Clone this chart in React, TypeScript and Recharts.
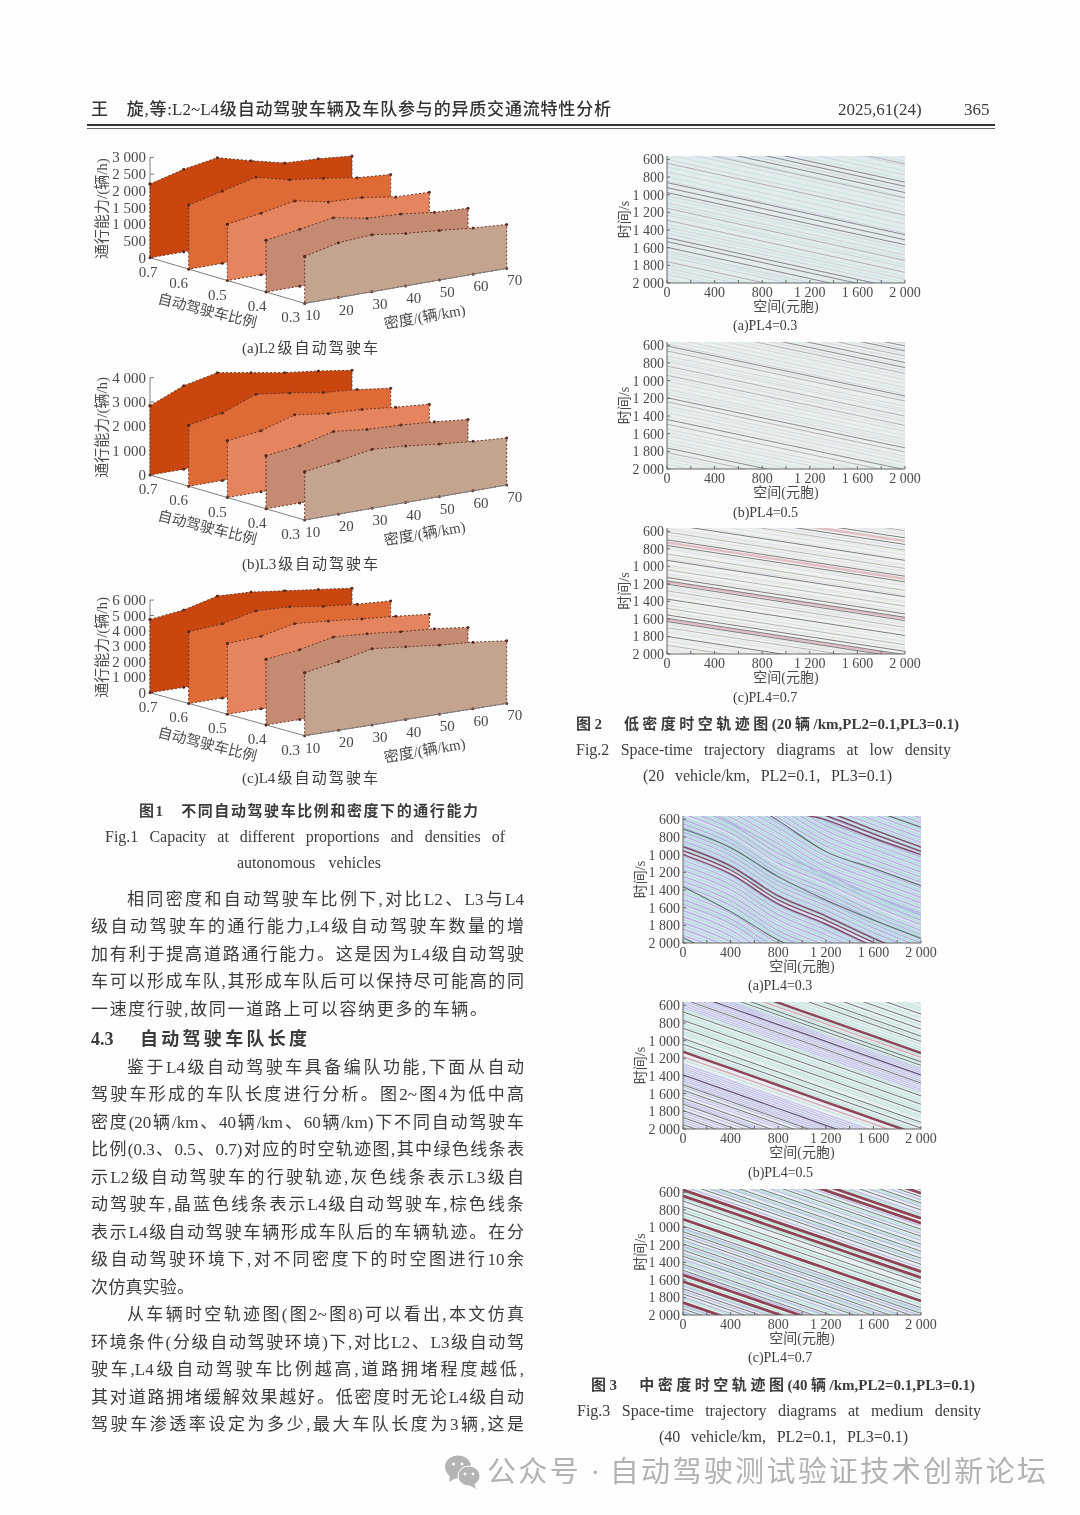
import React from 'react';
import { ComposedChart, LineChart, Line, Area, XAxis, YAxis, ReferenceArea } from 'recharts';

// ---------- Fig.1 data: capacity by AV ratio (rows) and density (columns) ----------
const RATIOS = [0.7, 0.6, 0.5, 0.4, 0.3];
const DENSITIES = [10, 20, 30, 40, 50, 60, 70];
const L2_CAPACITY = [
  [2203, 2467, 2641, 2377, 2133, 2088, 1993],
  [1914, 2158, 2402, 2148, 2023, 1859, 1784],
  [1684, 1839, 2033, 1829, 1784, 1630, 1595],
  [1545, 1699, 1874, 1679, 1634, 1510, 1455],
  [1405, 1640, 1704, 1570, 1485, 1380, 1316],
];
const L3_CAPACITY = [
  [2849, 3432, 3726, 3486, 3247, 3075, 2863],
  [2507, 2774, 3301, 3116, 2890, 2774, 2589],
  [2329, 2500, 2918, 2733, 2658, 2514, 2397],
  [2178, 2349, 2699, 2541, 2479, 2377, 2233],
  [1986, 2185, 2425, 2322, 2164, 2034, 1932],
];
const L4_CAPACITY = [
  [4748, 5003, 5560, 5469, 5206, 4943, 4679],
  [4640, 4809, 5301, 5210, 4904, 4684, 4550],
  [4576, 4701, 5172, 4995, 4775, 4597, 4377],
  [4252, 4528, 4999, 4865, 4645, 4490, 4226],
  [4079, 4464, 4934, 4714, 4472, 4317, 4054],
];
const L2_TICKS = [0, 500, 1000, 1500, 2000, 2500, 3000];
const L3_TICKS = [0, 1000, 2000, 3000, 4000];
const L4_TICKS = [0, 1000, 2000, 3000, 4000, 5000, 6000];
const SLICE_COLORS = ['#c9470f', '#de6a35', '#e58560', '#c48a72', '#c4a48e'];

// ---------- Fig.2 / Fig.3 data: trajectories (time at space 0 and time shape along space) ----------
const SPACE = [0, 400, 800, 1200, 1600, 2000];
const TIME_TICKS = [600, 800, 1000, 1200, 1400, 1600, 1800, 2000];
const SPACE_TICKS = [0, 200, 400, 600, 800, 1000, 1200, 1400, 1600, 1800, 2000];

const F2A_SHAPE = [0, 118, 236, 354, 472, 590];
const F2A_DARK = [270, 316, 387, 864, 921, 977, 1487, 1532, 1596];
const F2A_MED = [645, 1155, 1758, 62, 1290, 448];
const F2A_PALE1 = [-18, 82, 188, 352, 491, 602, 742, 846, 1012, 1094, 1232, 1368, 1441, 1642, 1701, 1832, 1903, 1988];
const F2A_PALE2 = [34, 141, 236, 433, 548, 689, 798, 1046, 1127, 1204, 1334, 1402, 1668, 1796, 1868, 1951];

const F2B_SHAPE = [0, 113, 227, 340, 454, 567];
const F2B_DARK = [608, 1194, 1440, 1762, 286, 229, 41, 97];
const F2B_MED = [664, 835, 940, 1240, 1494, 1814, 352, 155];
const F2B_PALE1 = [12, 74, 192, 318, 421, 512, 586, 722, 782, 894, 1006, 1098, 1156, 1288, 1362, 1548, 1622, 1704, 1872, 1948];
const F2B_PALE2 = [126, 262, 388, 468, 548, 634, 756, 868, 972, 1052, 1128, 1322, 1406, 1588, 1668, 1734, 1846, 1908, 1982];

const F2C_SHAPE = [0, 83, 166, 249, 332, 415];
const F2C_DARK = [698, 762, 1128, 1166, 1204, 1555, 1593, 1630, 260, 336, 932, 1374, 1800, 517, 1996];
const F2C_RED = [728, 1180, 1610, 298];
const F2C_MED = [610, 860, 1040, 1280, 1480, 1700, 1900, 180, 400];
const F2C_PALE1 = [152, 224, 368, 452, 566, 644, 806, 912, 988, 1086, 1248, 1326, 1442, 1522, 1668, 1752, 1852, 1948];
const F2C_PALE2 = [198, 286, 421, 498, 588, 674, 784, 888, 1006, 1108, 1224, 1308, 1408, 1516, 1646, 1728, 1824, 1922];

const F3A_LOWER = [0, 219, 558, 785, 1037, 1255];
const F3A_UPPER = [0, 260, 560, 880, 1090, 1290];
const F3A_BAND_TOP = [
  [910, 1129, 1468, 1695, 1947, 2165],
  [955, 1174, 1513, 1740, 1992, 2210],
  [1000, 1219, 1558, 1785, 2037, 2255],
];
const F3A_BAND_RIGHT = [
  [-340, -120, 360, 510, 718, 915],
  [-292, -72, 402, 558, 765, 963],
  [-240, -22, 452, 606, 812, 1000],
];
const F3A_SINGLE = [
  [709, 921, 1249, 1513, 1740, 1947],
  [40, 300, 615, 966, 1155, 1351],
  [1362, 1645, 1966, 2200, 2400, 2600],
  [1936, 2200, 2420, 2600, 2800, 3000],
  [-470, -260, 10, 290, 500, 690],
];
const F3A_LILAC_LOW = [430, 486, 538, 604, 652, 698, 745, 792, 846, 898, 1015, 1066, 1122, 1178, 1245, 1302, 1356, 1445, 1508, 1562, 1634, 1702, 1768, 1842, 1912, 1984];
const F3A_AQUA_LOW = [462, 512, 578, 628, 676, 722, 768, 822, 872, 928, 1038, 1094, 1150, 1212, 1274, 1332, 1386, 1412, 1478, 1536, 1598, 1668, 1736, 1806, 1878, 1958];
const F3A_LILAC_UP = [-702, -648, -598, -544, -482, -428, -372, -318, -262, -208, -152, -92, -34, 22, 84, 136, 196, 258, 318, 372];
const F3A_AQUA_UP = [-676, -622, -572, -512, -456, -398, -344, -286, -236, -178, -122, -62, -4, 58, 112, 168, 228, 288, 348, 402];

const F3B_SHAPE = [0, 190, 380, 570, 760, 950];
const F3B_THICK = [1125, 190];
const F3B_PINK = [1182, 240];
const F3B_PURPLE = [438, 1388];
const F3B_GRAY = [675, 770, 860, 975, 1040, 1500, 1560, 1650, 1720, 1790, 1870, 1950, -250, -160, -80, 0, 60, 330, 290, 530];
const F3B_LILAC = [372, 392, 412, 458, 482, 506, 552, 578, 602, 626, 1262, 1288, 1312, 1336, 1362, 1412, 1436, 1458, 1482, 1524, 1584, 1612, 1678, 1702, 1752, 1814, 1846, 1896, 1922, 1978];
const F3B_AQUA = [-366, -318, -288, -206, -124, -36, 28, 92, 128, 156, 218, 268, 302, 352, 650, 712, 742, 806, 832, 898, 924, 1002, 1074, 1098, 1218];

const F3C_SHAPE = [0, 186, 373, 559, 746, 932];
const F3C_THICK = [573, 642, 908, 1543, 1619, 1859, -35, 20, -321];
const F3C_MED = [700, 764, 830, 985, 1050, 1110, 1190, 1260, 1330, 1420, 1490, 1700, 1760, 1930, -280, -210, -130, 90, 170, 260, 340, 420, 490];
const F3C_LILAC = [-362, -248, -168, -88, 52, 138, 218, 298, 378, 458, 532, 1012, 1078, 1146, 1218, 1296, 1366, 1446, 1512, 1668, 1728, 1796, 1894, 1962];
const F3C_AQUA = [-318, -192, -64, 112, 198, 278, 362, 442, 604, 672, 798, 868, 948, 1028, 1164, 1236, 1312, 1392, 1458, 1582, 1652, 1816, 1906, 1982];

// ---------- Text ----------
const BODY_LINES = [
  '相同密度和自动驾驶车比例下,对比L2、L3与L4',
  '级自动驾驶车的通行能力,L4级自动驾驶车数量的增',
  '加有利于提高道路通行能力。这是因为L4级自动驾驶',
  '车可以形成车队,其形成车队后可以保持尽可能高的同',
  '一速度行驶,故同一道路上可以容纳更多的车辆。',
];
const BODY_LINES_2 = [
  '鉴于L4级自动驾驶车具备编队功能,下面从自动',
  '驾驶车形成的车队长度进行分析。图2~图4为低中高',
  '密度(20辆/km、40辆/km、60辆/km)下不同自动驾驶车',
  '比例(0.3、0.5、0.7)对应的时空轨迹图,其中绿色线条表',
  '示L2级自动驾驶车的行驶轨迹,灰色线条表示L3级自',
  '动驾驶车,晶蓝色线条表示L4级自动驾驶车,棕色线条',
  '表示L4级自动驾驶车辆形成车队后的车辆轨迹。在分',
  '级自动驾驶环境下,对不同密度下的时空图进行10余',
  '次仿真实验。',
  '从车辆时空轨迹图(图2~图8)可以看出,本文仿真',
  '环境条件(分级自动驾驶环境)下,对比L2、L3级自动驾',
  '驶车,L4级自动驾驶车比例越高,道路拥堵程度越低,',
  '其对道路拥堵缓解效果越好。低密度时无论L4级自动',
  '驾驶车渗透率设定为多少,最大车队长度为3辆,这是',
];
const BODY_Y = [899, 926, 954, 981, 1009];
const BODY_Y_2 = [1067, 1094, 1122, 1149, 1177, 1204, 1232, 1259, 1287, 1314, 1342, 1369, 1397, 1424];

const FONT = '"Liberation Serif","Noto Sans CJK SC",serif';
const INK = '#3c3c3c';

function T({ x, y, w, size = 15, weight = 400, color = INK, align = 'left', children }: any) {
  const style: React.CSSProperties = {
    position: 'absolute', left: x, top: y + 1 - size, height: size * 2, lineHeight: `${size * 2}px`,
    fontSize: size, fontWeight: weight, color, fontFamily: FONT, whiteSpace: 'nowrap',
    width: w, textAlign: align as any, textAlignLast: align as any,
  };
  return <div style={style}>{children}</div>;
}

const fmt = (v: number) => {
  const s = String(v);
  return s.length > 3 ? `${s.slice(0, -3)} ${s.slice(-3)}` : s;
};

// ---------- Fig.1 panel: walls projected to the page through hidden numeric axes ----------
const W3D = 560;
const H3D = 240;

function Layer3D({ children }: any) {
  return (
    <div style={{ position: 'absolute', left: 0, top: 0, width: W3D, height: H3D }}>
      <ComposedChart width={W3D} height={H3D} margin={{ top: 0, right: 0, bottom: 0, left: 0 }}>
        <XAxis type="number" dataKey="x" domain={[0, W3D]} hide allowDataOverflow />
        <YAxis type="number" domain={[0, H3D]} reversed hide allowDataOverflow />
        {children}
      </ComposedChart>
    </div>
  );
}

const RATIO_DX = [-2, -10, -10, -9, -14];

function Wall3D({ top, originY, zScale, zTicks, zMax, depthDrop, densityRise, capacity }: any) {
  const originX = 150;
  const project = (r: number, d: number, cap: number) => ({
    x: originX + ((0.7 - r) / 0.4) * 154.7 + ((d - 10) / 60) * 202,
    y: originY - top + ((0.7 - r) / 0.4) * depthDrop - ((d - 10) / 60) * densityRise - cap * zScale,
  });
  const textDot = (dx: any, dy: number, anchor: string, size: number, angle = 0) => (p: any) => {
    const ox = typeof dx === 'function' ? dx(p.index) : dx;
    return (
      <text
        key={`${p.index}-${p.cx}-${p.cy}`}
        x={p.cx + ox}
        y={p.cy + dy}
        textAnchor={anchor}
        dominantBaseline="central"
        fontSize={size}
        fontFamily={FONT}
        fill="#4a4a4a"
        transform={angle ? `rotate(${angle} ${p.cx + ox} ${p.cy + dy})` : undefined}
      >
        {p.payload.label}
      </text>
    );
  };
  const markDot = (p: any) => (
    <circle key={`${p.index}-${p.cx}-${p.cy}`} cx={p.cx} cy={p.cy} r={1.5} fill="#5a2c20" stroke="none" />
  );
  const tickDot = (p: any) => (
    <line key={`${p.index}-${p.cy}`} x1={p.cx} x2={p.cx + 4} y1={p.cy} y2={p.cy} stroke="#777" strokeWidth={1} />
  );
  const pt = (r: number, d: number, cap: number, label?: string) => ({ ...project(r, d, cap), label });

  return (
    <div style={{ position: 'absolute', left: 0, top, width: W3D, height: H3D }}>
      <Layer3D>
        <Line data={[pt(0.7, 10, 0), pt(0.7, 10, zMax)]} dataKey="y" stroke="#808080" strokeWidth={1} dot={false} isAnimationActive={false} />
        <Line data={zTicks.map((v: number) => pt(0.7, 10, v))} dataKey="y" stroke="none" dot={tickDot} isAnimationActive={false} />
        <Line data={[pt(0.7, 10, 0), pt(0.3, 10, 0)]} dataKey="y" stroke="#808080" strokeWidth={1} dot={false} isAnimationActive={false} />
      </Layer3D>
      {RATIOS.map((r, i) => {
        const rows = DENSITIES.map((d, j) => {
          const a = project(r, d, 0);
          const b = project(r, d, capacity[i][j]);
          return { x: a.x, range: [a.y, b.y] };
        });
        const topEdge = DENSITIES.map((d, j) => pt(r, d, capacity[i][j]));
        const baseEdge = [...DENSITIES].reverse().map((d) => pt(r, d, 0));
        const ring = [...topEdge, ...baseEdge, topEdge[0]];
        return (
          <Layer3D key={r}>
            <Area data={rows} dataKey="range" type="linear" fill={SLICE_COLORS[i]} fillOpacity={1} stroke="none" dot={false} activeDot={false} isAnimationActive={false} />
            <Line data={ring} dataKey="y" type="linear" stroke="#6a3527" strokeWidth={1} strokeDasharray="2 2" dot={markDot} isAnimationActive={false} />
          </Layer3D>
        );
      })}
      <Layer3D>
        <Line data={[pt(0.3, 10, 0), pt(0.3, 70, 0)]} dataKey="y" stroke="#808080" strokeWidth={1} dot={false} isAnimationActive={false} />
        <Line data={zTicks.map((v: number) => pt(0.7, 10, v, fmt(v)))} dataKey="y" stroke="none" dot={textDot(-4, 0, 'end', 15)} isAnimationActive={false} />
        <Line data={RATIOS.map((r) => pt(r, 10, 0, String(r)))} dataKey="y" stroke="none" dot={textDot((i: number) => RATIO_DX[i], 14, 'middle', 15)} isAnimationActive={false} />
        <Line data={DENSITIES.map((d) => pt(0.3, d, 0, String(d)))} dataKey="y" stroke="none" dot={textDot(8, 12, 'middle', 15)} isAnimationActive={false} />
        <Line data={[pt(0.7, 10, zMax / 2, '通行能力/(辆/h)')]} dataKey="y" stroke="none" dot={textDot(-48, 1, 'middle', 15, -90)} isAnimationActive={false} />
        <Line data={[pt(0.5, 10, 0, '自动驾驶车比例')]} dataKey="y" stroke="none" dot={textDot(-20, 30, 'middle', 14.5, 14)} isAnimationActive={false} />
        <Line data={[pt(0.3, 40, 0, '密度/(辆/km)')]} dataKey="y" stroke="none" dot={textDot(19, 31, 'middle', 15, -10)} isAnimationActive={false} />
      </Layer3D>
    </div>
  );
}

// ---------- Fig.2 / Fig.3 panel ----------
const track = (shape: number[], t0: number) => SPACE.map((x, i) => ({ x, t: t0 + shape[i] }));
const raw = (times: number[]) => SPACE.map((x, i) => ({ x, t: times[i] }));

function Trajectory({ left, top, width, height, base, bundles }: any) {
  const axisW = 56;
  const below = 40;
  return (
    <div style={{ position: 'absolute', left: left - axisW, top: top - 4 }}>
      <LineChart width={axisW + width + 22} height={height + 4 + below} margin={{ top: 4, right: 22, bottom: 0, left: 0 }}>
        <XAxis
          type="number" dataKey="x" domain={[0, 2000]} ticks={SPACE_TICKS} interval={0} allowDataOverflow height={below}
          tick={{ fontSize: 14, fill: '#4a4a4a', fontFamily: FONT }} tickSize={-3} tickMargin={7} stroke="#666"
          tickFormatter={(v: number) => (v % 400 === 0 ? fmt(v) : '')}
          label={{ value: '空间(元胞)', position: 'insideBottom', offset: 12, fontSize: 14, fill: '#4a4a4a', fontFamily: FONT }}
        />
        <YAxis
          type="number" domain={[563, 2000]} reversed ticks={TIME_TICKS} interval={0} allowDataOverflow width={axisW}
          tick={{ fontSize: 14, fill: '#4a4a4a', fontFamily: FONT }} tickSize={-3} tickMargin={6} stroke="#666"
          tickFormatter={fmt}
          label={{ value: '时间/s', angle: -90, position: 'insideLeft', offset: 13, fontSize: 14, fill: '#4a4a4a', fontFamily: FONT, style: { textAnchor: 'middle' } }}
        />
        <ReferenceArea x1={0} x2={2000} y1={563} y2={2000} fill={base} fillOpacity={1} stroke="none" />
        {bundles.map((b: any, i: number) =>
          b.rows.map((rows: any, j: number) => (
            <Line key={`${i}-${j}`} data={rows} dataKey="t" type="monotone" stroke={b.color} strokeWidth={b.w} strokeOpacity={b.o ?? 1} dot={false} activeDot={false} isAnimationActive={false} />
          )),
        )}
      </LineChart>
    </div>
  );
}

const many = (shape: number[], list: number[]) => list.map((t0) => track(shape, t0));

const F2A = [
  { rows: many(F2A_SHAPE, F2A_PALE1), color: '#d0d4e2', w: 1 },
  { rows: many(F2A_SHAPE, F2A_PALE2), color: '#cde3e0', w: 1 },
  { rows: many(F2A_SHAPE, F2A_MED), color: '#b3aeb8', w: 1 },
  { rows: many(F2A_SHAPE, F2A_DARK), color: '#8a8390', w: 1 },
];
const F2B = [
  { rows: many(F2B_SHAPE, F2B_PALE1), color: '#d6d8e1', w: 1 },
  { rows: many(F2B_SHAPE, F2B_PALE2), color: '#d6e4e1', w: 1 },
  { rows: many(F2B_SHAPE, F2B_MED), color: '#b5b1b7', w: 1 },
  { rows: many(F2B_SHAPE, F2B_DARK), color: '#8d898f', w: 1 },
];
const F2C = [
  { rows: many(F2C_SHAPE, F2C_PALE1), color: '#dddce5', w: 1 },
  { rows: many(F2C_SHAPE, F2C_PALE2), color: '#e1e9e1', w: 1 },
  { rows: many(F2C_SHAPE, F2C_MED), color: '#b8b9b4', w: 1 },
  { rows: many(F2C_SHAPE, F2C_RED), color: '#e3bcc4', w: 2.4 },
  { rows: many(F2C_SHAPE, F2C_DARK), color: '#7f7d80', w: 1 },
];
const F3A = [
  { rows: many(F3A_UPPER, F3A_AQUA_UP), color: '#a8e0d8', w: 1.2 },
  { rows: many(F3A_UPPER, F3A_LILAC_UP), color: '#b0b0e0', w: 1.2 },
  { rows: many(F3A_LOWER, F3A_AQUA_LOW), color: '#abe0d8', w: 1.2 },
  { rows: many(F3A_LOWER, F3A_LILAC_LOW), color: '#b0aee0', w: 1.2 },
  { rows: F3A_SINGLE.map(raw), color: '#5a686a', w: 1.1 },
  { rows: F3A_BAND_TOP.map(raw), color: '#7f4a66', w: 1.4 },
  { rows: F3A_BAND_RIGHT.map(raw), color: '#7f4a66', w: 1.4 },
];
const F3B = [
  { rows: many(F3B_SHAPE, F3B_AQUA), color: '#c4e6da', w: 1.2 },
  { rows: many(F3B_SHAPE, F3B_LILAC), color: '#c2c2e8', w: 1.2 },
  { rows: many(F3B_SHAPE, F3B_GRAY), color: '#6d7674', w: 1 },
  { rows: many(F3B_SHAPE, F3B_PINK), color: '#d6a8b4', w: 1.4 },
  { rows: many(F3B_SHAPE, F3B_PURPLE), color: '#62507c', w: 1.3 },
  { rows: many(F3B_SHAPE, F3B_THICK), color: '#8f4358', w: 2.4 },
];
const F3C = [
  { rows: many(F3C_SHAPE, F3C_AQUA), color: '#b8e6d8', w: 1.3 },
  { rows: many(F3C_SHAPE, F3C_LILAC), color: '#bab9e2', w: 1.2 },
  { rows: many(F3C_SHAPE, F3C_MED), color: '#787880', w: 1 },
  { rows: many(F3C_SHAPE, F3C_THICK), color: '#8f4254', w: 2.8 },
];

function Footer() {
  return (
    <svg style={{ position: 'absolute', left: 444, top: 1454 }} width={38} height={36}>
      <ellipse cx={14} cy={13} rx={13} ry={11.5} fill="#b4b4b4" />
      <path d="M6 21 L5 28 L12 24 Z" fill="#b4b4b4" />
      <circle cx={9.5} cy={10} r={1.6} fill="#fff" />
      <circle cx={18} cy={10} r={1.6} fill="#fff" />
      <ellipse cx={25} cy={22} rx={11} ry={10} fill="#b4b4b4" stroke="#fff" strokeWidth={1} />
      <path d="M30 29 L32 35 L25 31 Z" fill="#b4b4b4" />
      <circle cx={21} cy={20} r={1.4} fill="#fff" />
      <circle cx={29} cy={20} r={1.4} fill="#fff" />
    </svg>
  );
}

export default function App() {
  return (
    <div style={{ position: 'absolute', left: 0, top: 0, width: 1080, height: 1515, background: '#fefefe', overflow: 'hidden', filter: 'blur(0.45px)' }}>
      <T x={91} y={109} w={520} size={17} align="justify" color="#333" weight={500}>王　旋,等:L2~L4级自动驾驶车辆及车队参与的异质交通流特性分析</T>
      <T x={838} y={109} w={95} size={17} align="justify">2025,61(24)</T>
      <T x={964} y={109} size={17}>365</T>
      <div style={{ position: 'absolute', left: 87, top: 124, width: 908, height: 2, background: '#333' }} />
      <div style={{ position: 'absolute', left: 87, top: 128, width: 908, height: 1, background: '#666' }} />

      <Wall3D top={140} originY={257.7} zScale={0.03344} zTicks={L2_TICKS} zMax={3000} depthDrop={45.7} densityRise={35} capacity={L2_CAPACITY} />
      <Wall3D top={365} originY={475} zScale={0.02433} zTicks={L3_TICKS} zMax={4000} depthDrop={45} densityRise={35} capacity={L3_CAPACITY} />
      <Wall3D top={580} originY={692.7} zScale={0.01544} zTicks={L4_TICKS} zMax={6000} depthDrop={43} densityRise={32.3} capacity={L4_CAPACITY} />
      <T x={242} y={347} w={136} size={15} align="justify">(a)L2级自动驾驶车</T>
      <T x={242} y={563} w={136} size={15} align="justify">(b)L3级自动驾驶车</T>
      <T x={242} y={777} w={136} size={15} align="justify">(c)L4级自动驾驶车</T>

      <T x={139} y={810} w={339} size={15} weight={700} align="justify">图1　不同自动驾驶车比例和密度下的通行能力</T>
      <T x={105} y={836} w={400} size={16} align="justify">Fig.1   Capacity at different proportions and densities of</T>
      <T x={237} y={862} w={144} size={16} align="justify">autonomous vehicles</T>

      {BODY_LINES.map((s, i) => (
        <T key={s} x={i === 0 ? 127 : 91} y={BODY_Y[i]} w={i === 4 ? 396 : i === 0 ? 397 : 433} size={17} align="justify">{s}</T>
      ))}
      <T x={91} y={1038} size={18} weight={700}>4.3</T>
      <T x={140} y={1038} w={167} size={18} weight={700} align="justify">自动驾驶车队长度</T>
      {BODY_LINES_2.map((s, i) => (
        <T key={s} x={i === 0 || i === 9 ? 127 : 91} y={BODY_Y_2[i]} w={i === 0 || i === 9 ? 397 : i === 8 ? 103 : 433} size={17} align="justify">{s}</T>
      ))}

      <Trajectory left={667} top={156} width={238} height={127} base="#e2ecec" bundles={F2A} />
      <T x={733} y={325} w={72} size={14} align="justify">(a)PL4=0.3</T>
      <Trajectory left={667} top={342} width={238} height={127} base="#e9efed" bundles={F2B} />
      <T x={733} y={512} w={72} size={14} align="justify">(b)PL4=0.5</T>
      <Trajectory left={667} top={528} width={238} height={126} base="#f0f2ef" bundles={F2C} />
      <T x={733} y={697} w={72} size={14} align="justify">(c)PL4=0.7</T>
      <T x={576} y={723} w={383} size={15} weight={700} align="justify">图2　低密度时空轨迹图(20辆/km,PL2=0.1,PL3=0.1)</T>
      <T x={576} y={749} w={375} size={16} align="justify">Fig.2   Space-time trajectory diagrams at low density</T>
      <T x={643} y={775} w={249} size={16} align="justify">(20 vehicle/km, PL2=0.1, PL3=0.1)</T>

      <Trajectory left={683} top={816} width={238} height={127} base="#dcdff1" bundles={F3A} />
      <T x={748} y={985} w={72} size={14} align="justify">(a)PL4=0.3</T>
      <Trajectory left={683} top={1002} width={238} height={127} base="#e8eef3" bundles={F3B} />
      <T x={748} y={1172} w={72} size={14} align="justify">(b)PL4=0.5</T>
      <Trajectory left={683} top={1189} width={238} height={126} base="#e8eff0" bundles={F3C} />
      <T x={748} y={1357} w={72} size={14} align="justify">(c)PL4=0.7</T>
      <T x={591} y={1384} w={384} size={15} weight={700} align="justify">图3　中密度时空轨迹图(40辆/km,PL2=0.1,PL3=0.1)</T>
      <T x={577} y={1410} w={404} size={16} align="justify">Fig.3   Space-time trajectory diagrams at medium density</T>
      <T x={659} y={1436} w={249} size={16} align="justify">(40 vehicle/km, PL2=0.1, PL3=0.1)</T>

      <Footer />
      <T x={487} y={1471} w={559} size={29} color="#b2b2b2" align="justify">公众号 · 自动驾驶测试验证技术创新论坛</T>
    </div>
  );
}
